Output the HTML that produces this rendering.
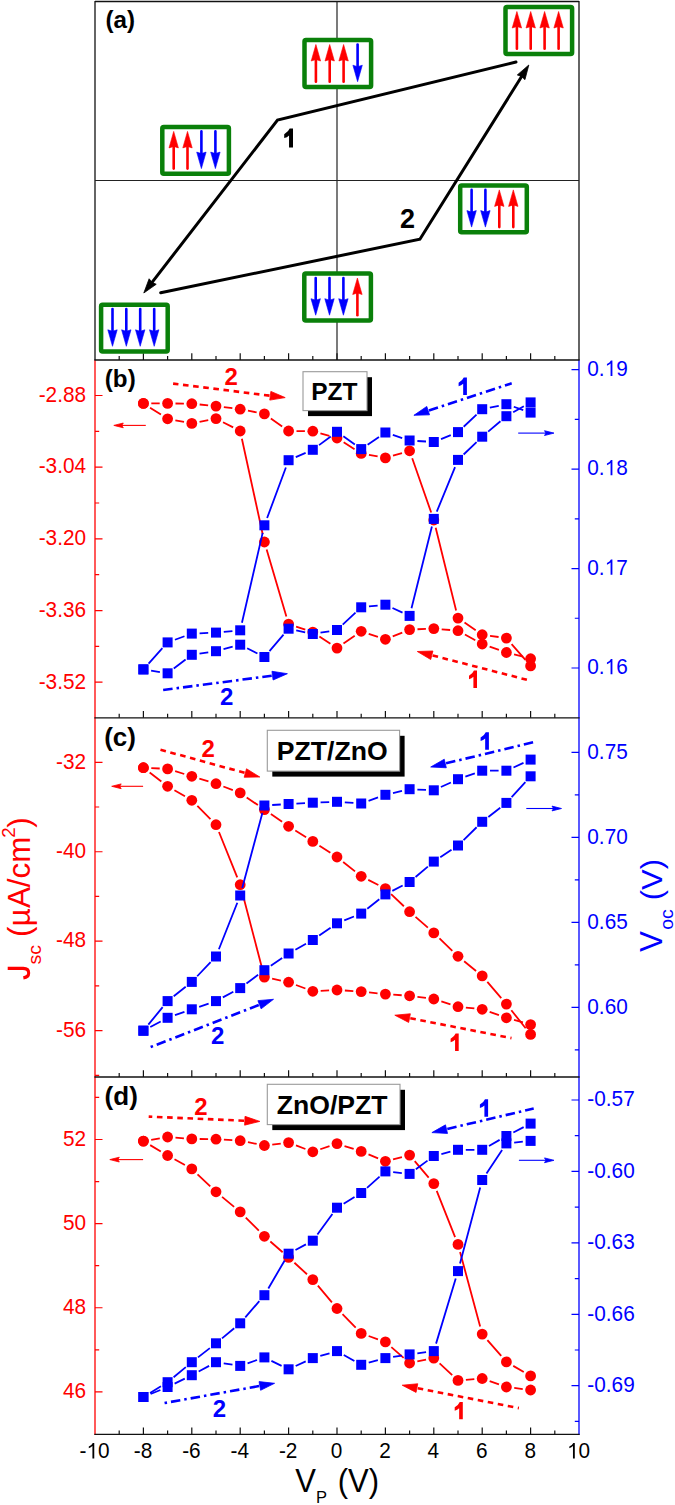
<!DOCTYPE html>
<html><head><meta charset="utf-8"><style>
html,body{margin:0;padding:0;background:#fff;}
body{width:675px;height:1505px;overflow:hidden;}
svg{display:block;font-family:"Liberation Sans", sans-serif;}
.tl{font-size:20.8px;}
.pl{font-size:24.2px;font-weight:bold;fill:#000;}
.num{font-weight:bold;}
</style></head><body>
<svg width="675" height="1505" viewBox="0 0 675 1505">
<rect width="675" height="1505" fill="#fff"/>
<line x1="95.0" y1="1.5" x2="579.0" y2="1.5" stroke="#111" stroke-width="1.3"/>
<line x1="95.0" y1="0.9" x2="95.0" y2="360.0" stroke="#111" stroke-width="1.3"/>
<line x1="579.0" y1="0.9" x2="579.0" y2="360.0" stroke="#111" stroke-width="1.3"/>
<line x1="337" y1="1.5" x2="337" y2="360.0" stroke="#222" stroke-width="1.2"/>
<line x1="95.0" y1="180.5" x2="579.0" y2="180.5" stroke="#222" stroke-width="1.2"/>
<line x1="95.0" y1="360.0" x2="95.0" y2="1435.0" stroke="#ff0000" stroke-width="1.3"/>
<line x1="579.0" y1="360.0" x2="579.0" y2="1435.0" stroke="#0000ff" stroke-width="1.3"/>
<line x1="94.4" y1="360.0" x2="579.6" y2="360.0" stroke="#111" stroke-width="1.3"/>
<path d="M119.2 360v-4.0M143.4 360v-6.8M167.6 360v-4.0M191.8 360v-6.8M216 360v-4.0M240.2 360v-6.8M264.4 360v-4.0M288.6 360v-6.8M312.8 360v-4.0M337 360v-6.8M361.2 360v-4.0M385.4 360v-6.8M409.6 360v-4.0M433.8 360v-6.8M458 360v-4.0M482.2 360v-6.8M506.4 360v-4.0M530.6 360v-6.8M554.8 360v-4.0" stroke="#111" stroke-width="1.2" fill="none"/>
<line x1="94.4" y1="717.8" x2="579.6" y2="717.8" stroke="#111" stroke-width="1.3"/>
<path d="M119.2 717.8v-4.0M143.4 717.8v-6.8M167.6 717.8v-4.0M191.8 717.8v-6.8M216 717.8v-4.0M240.2 717.8v-6.8M264.4 717.8v-4.0M288.6 717.8v-6.8M312.8 717.8v-4.0M337 717.8v-6.8M361.2 717.8v-4.0M385.4 717.8v-6.8M409.6 717.8v-4.0M433.8 717.8v-6.8M458 717.8v-4.0M482.2 717.8v-6.8M506.4 717.8v-4.0M530.6 717.8v-6.8M554.8 717.8v-4.0" stroke="#111" stroke-width="1.2" fill="none"/>
<line x1="94.4" y1="1077.0" x2="579.6" y2="1077.0" stroke="#111" stroke-width="1.3"/>
<path d="M119.2 1077v-4.0M143.4 1077v-6.8M167.6 1077v-4.0M191.8 1077v-6.8M216 1077v-4.0M240.2 1077v-6.8M264.4 1077v-4.0M288.6 1077v-6.8M312.8 1077v-4.0M337 1077v-6.8M361.2 1077v-4.0M385.4 1077v-6.8M409.6 1077v-4.0M433.8 1077v-6.8M458 1077v-4.0M482.2 1077v-6.8M506.4 1077v-4.0M530.6 1077v-6.8M554.8 1077v-4.0" stroke="#111" stroke-width="1.2" fill="none"/>
<line x1="94.4" y1="1434.4" x2="579.6" y2="1434.4" stroke="#111" stroke-width="1.3"/>
<path d="M119.2 1434.4v-4.0M143.4 1434.4v-6.8M167.6 1434.4v-4.0M191.8 1434.4v-6.8M216 1434.4v-4.0M240.2 1434.4v-6.8M264.4 1434.4v-4.0M288.6 1434.4v-6.8M312.8 1434.4v-4.0M337 1434.4v-6.8M361.2 1434.4v-4.0M385.4 1434.4v-6.8M409.6 1434.4v-4.0M433.8 1434.4v-6.8M458 1434.4v-4.0M482.2 1434.4v-6.8M506.4 1434.4v-4.0M530.6 1434.4v-6.8M554.8 1434.4v-4.0" stroke="#111" stroke-width="1.2" fill="none"/>
<path d="M95 395.5h7.5M95 467.18h7.5M95 538.85h7.5M95 610.53h7.5M95 682.2h7.5M95 431.34h4.2M95 503.01h4.2M95 574.69h4.2M95 646.36h4.2" stroke="#ff0000" stroke-width="1.2" fill="none"/>
<text transform="translate(38.7 401.8) scale(1 1.03)" class="tl" fill="#ff0000">-2.88</text>
<text transform="translate(38.7 473.48) scale(1 1.03)" class="tl" fill="#ff0000">-3.04</text>
<text transform="translate(38.7 545.15) scale(1 1.03)" class="tl" fill="#ff0000">-3.20</text>
<text transform="translate(38.7 616.83) scale(1 1.03)" class="tl" fill="#ff0000">-3.36</text>
<text transform="translate(38.7 688.5) scale(1 1.03)" class="tl" fill="#ff0000">-3.52</text>
<path d="M579 369.6h-7.5M579 469.07h-7.5M579 568.53h-7.5M579 668h-7.5M579 419.33h-4.2M579 518.8h-4.2M579 618.27h-4.2" stroke="#0000ff" stroke-width="1.2" fill="none"/>
<text transform="translate(587.3 375.9) scale(1 1.03)" class="tl" fill="#0000ff">0.</text>
<path transform="translate(604.65 375.9) scale(20.8 21.42)" d="M0.373 0L0.373 -0.716L0.302 -0.716Q0.255 -0.62 0.11 -0.553L0.11 -0.472Q0.215 -0.51 0.285 -0.577L0.285 0Z" fill="#0000ff"/>
<text transform="translate(616.21 375.9) scale(1 1.03)" class="tl" fill="#0000ff">9</text>
<text transform="translate(587.3 475.37) scale(1 1.03)" class="tl" fill="#0000ff">0.</text>
<path transform="translate(604.65 475.37) scale(20.8 21.42)" d="M0.373 0L0.373 -0.716L0.302 -0.716Q0.255 -0.62 0.11 -0.553L0.11 -0.472Q0.215 -0.51 0.285 -0.577L0.285 0Z" fill="#0000ff"/>
<text transform="translate(616.21 475.37) scale(1 1.03)" class="tl" fill="#0000ff">8</text>
<text transform="translate(587.3 574.83) scale(1 1.03)" class="tl" fill="#0000ff">0.</text>
<path transform="translate(604.65 574.83) scale(20.8 21.42)" d="M0.373 0L0.373 -0.716L0.302 -0.716Q0.255 -0.62 0.11 -0.553L0.11 -0.472Q0.215 -0.51 0.285 -0.577L0.285 0Z" fill="#0000ff"/>
<text transform="translate(616.21 574.83) scale(1 1.03)" class="tl" fill="#0000ff">7</text>
<text transform="translate(587.3 674.3) scale(1 1.03)" class="tl" fill="#0000ff">0.</text>
<path transform="translate(604.65 674.3) scale(20.8 21.42)" d="M0.373 0L0.373 -0.716L0.302 -0.716Q0.255 -0.62 0.11 -0.553L0.11 -0.472Q0.215 -0.51 0.285 -0.577L0.285 0Z" fill="#0000ff"/>
<text transform="translate(616.21 674.3) scale(1 1.03)" class="tl" fill="#0000ff">6</text>
<path d="M95 762.3h7.5M95 851.73h7.5M95 941.17h7.5M95 1030.6h7.5M95 807.02h4.2M95 896.45h4.2M95 985.88h4.2M95 1075.3h4.2" stroke="#ff0000" stroke-width="1.2" fill="none"/>
<text transform="translate(56.04 768.6) scale(1 1.03)" class="tl" fill="#ff0000">-32</text>
<text transform="translate(56.04 858.03) scale(1 1.03)" class="tl" fill="#ff0000">-40</text>
<text transform="translate(56.04 947.47) scale(1 1.03)" class="tl" fill="#ff0000">-48</text>
<text transform="translate(56.04 1036.9) scale(1 1.03)" class="tl" fill="#ff0000">-56</text>
<path d="M579 752.3h-7.5M579 837.3h-7.5M579 922.3h-7.5M579 1007.3h-7.5M579 794.8h-4.2M579 879.8h-4.2M579 964.8h-4.2M579 1049.8h-4.2" stroke="#0000ff" stroke-width="1.2" fill="none"/>
<text transform="translate(587.3 758.6) scale(1 1.03)" class="tl" fill="#0000ff">0.75</text>
<text transform="translate(587.3 843.6) scale(1 1.03)" class="tl" fill="#0000ff">0.70</text>
<text transform="translate(587.3 928.6) scale(1 1.03)" class="tl" fill="#0000ff">0.65</text>
<text transform="translate(587.3 1013.6) scale(1 1.03)" class="tl" fill="#0000ff">0.60</text>
<path d="M95 1139.5h7.5M95 1223.63h7.5M95 1307.77h7.5M95 1391.9h7.5M95 1097.43h4.2M95 1181.57h4.2M95 1265.7h4.2M95 1349.83h4.2" stroke="#ff0000" stroke-width="1.2" fill="none"/>
<text transform="translate(62.97 1145.8) scale(1 1.03)" class="tl" fill="#ff0000">52</text>
<text transform="translate(62.97 1229.93) scale(1 1.03)" class="tl" fill="#ff0000">50</text>
<text transform="translate(62.97 1314.07) scale(1 1.03)" class="tl" fill="#ff0000">48</text>
<text transform="translate(62.97 1398.2) scale(1 1.03)" class="tl" fill="#ff0000">46</text>
<path d="M579 1100h-7.5M579 1171.42h-7.5M579 1242.85h-7.5M579 1314.28h-7.5M579 1385.7h-7.5M579 1135.71h-4.2M579 1207.14h-4.2M579 1278.56h-4.2M579 1349.99h-4.2M579 1421.41h-4.2" stroke="#0000ff" stroke-width="1.2" fill="none"/>
<text transform="translate(587.3 1106.3) scale(1 1.03)" class="tl" fill="#0000ff">-0.57</text>
<text transform="translate(587.3 1177.72) scale(1 1.03)" class="tl" fill="#0000ff">-0.60</text>
<text transform="translate(587.3 1249.15) scale(1 1.03)" class="tl" fill="#0000ff">-0.63</text>
<text transform="translate(587.3 1320.58) scale(1 1.03)" class="tl" fill="#0000ff">-0.66</text>
<text transform="translate(587.3 1392) scale(1 1.03)" class="tl" fill="#0000ff">-0.69</text>
<text transform="translate(79.57 1458.4) scale(1 1.03)" class="tl" fill="#000">-</text>
<path transform="translate(86.5 1458.4) scale(20.8 21.42)" d="M0.373 0L0.373 -0.716L0.302 -0.716Q0.255 -0.62 0.11 -0.553L0.11 -0.472Q0.215 -0.51 0.285 -0.577L0.285 0Z" fill="#000"/>
<text transform="translate(98.06 1458.4) scale(1 1.03)" class="tl" fill="#000">0</text>
<text transform="translate(133.75 1458.4) scale(1 1.03)" class="tl" fill="#000">-8</text>
<text transform="translate(182.15 1458.4) scale(1 1.03)" class="tl" fill="#000">-6</text>
<text transform="translate(230.55 1458.4) scale(1 1.03)" class="tl" fill="#000">-4</text>
<text transform="translate(278.95 1458.4) scale(1 1.03)" class="tl" fill="#000">-2</text>
<text transform="translate(330.82 1458.4) scale(1 1.03)" class="tl" fill="#000">0</text>
<text transform="translate(379.22 1458.4) scale(1 1.03)" class="tl" fill="#000">2</text>
<text transform="translate(427.62 1458.4) scale(1 1.03)" class="tl" fill="#000">4</text>
<text transform="translate(476.02 1458.4) scale(1 1.03)" class="tl" fill="#000">6</text>
<text transform="translate(524.42 1458.4) scale(1 1.03)" class="tl" fill="#000">8</text>
<path transform="translate(567.04 1458.4) scale(20.8 21.42)" d="M0.373 0L0.373 -0.716L0.302 -0.716Q0.255 -0.62 0.11 -0.553L0.11 -0.472Q0.215 -0.51 0.285 -0.577L0.285 0Z" fill="#000"/>
<text transform="translate(578.6 1458.4) scale(1 1.03)" class="tl" fill="#000">0</text>
<g transform="translate(295.3 1492.2) scale(1 1.08)" fill="#000"><text x="0" y="0" font-size="31">V</text><text x="42.5" y="0" font-size="31">(V)</text></g>
<text x="316.1" y="1503.4" font-size="16.5" fill="#000">P</text>
<g transform="translate(29.8 980.5) rotate(-90) scale(1.03 1)" fill="#ff0000"><path d="M10.1 -22.1L13.4 -22.1L13.4 -6.5Q13.4 0.4 7.2 0.4Q1.6 0.4 1.0 -6.2L4.2 -6.7Q4.6 -2.6 7.2 -2.6Q10.1 -2.6 10.1 -7Z"/><text x="15.6" y="11" font-size="19">sc</text><text x="42.3" y="0" font-size="30.5">(µ</text><text x="70.3" y="0" font-size="30.5">A/cm</text><text x="138.5" y="-15" font-size="18">2</text><text x="148.2" y="0" font-size="30.5">)</text></g>
<g transform="translate(661.8 952) rotate(-90) scale(1.03 1)" fill="#0000ff"><text x="0" y="0" font-size="30.5">V</text><text x="21.5" y="11.5" font-size="19">oc</text><text x="50.3" y="0" font-size="30">(V)</text></g>
<text x="105.5" y="28.4" class="pl">(a)</text>
<rect x="505.5" y="7.1" width="66.6" height="46.8" rx="1.5" fill="#fff" stroke="#0a800a" stroke-width="4.5"/>
<line x1="516.9" y1="48.7" x2="516.9" y2="23.5" stroke="#ff0000" stroke-width="2.6" stroke-linecap="round"/>
<path d="M516.9 11.5L521.6 28L516.9 26.5L512.2 28Z" fill="#ff0000" stroke="#ff0000" stroke-width="0.6" stroke-linejoin="round"/>
<line x1="530.7" y1="48.7" x2="530.7" y2="23.5" stroke="#ff0000" stroke-width="2.6" stroke-linecap="round"/>
<path d="M530.7 11.5L535.4 28L530.7 26.5L526 28Z" fill="#ff0000" stroke="#ff0000" stroke-width="0.6" stroke-linejoin="round"/>
<line x1="544.6" y1="48.7" x2="544.6" y2="23.5" stroke="#ff0000" stroke-width="2.6" stroke-linecap="round"/>
<path d="M544.6 11.5L549.3 28L544.6 26.5L539.9 28Z" fill="#ff0000" stroke="#ff0000" stroke-width="0.6" stroke-linejoin="round"/>
<line x1="558.6" y1="48.7" x2="558.6" y2="23.5" stroke="#ff0000" stroke-width="2.6" stroke-linecap="round"/>
<path d="M558.6 11.5L563.3 28L558.6 26.5L553.9 28Z" fill="#ff0000" stroke="#ff0000" stroke-width="0.6" stroke-linejoin="round"/>
<rect x="304.5" y="40.1" width="66.6" height="46.8" rx="1.5" fill="#fff" stroke="#0a800a" stroke-width="4.5"/>
<line x1="315.9" y1="81.7" x2="315.9" y2="56.5" stroke="#ff0000" stroke-width="2.6" stroke-linecap="round"/>
<path d="M315.9 44.5L320.6 61L315.9 59.5L311.2 61Z" fill="#ff0000" stroke="#ff0000" stroke-width="0.6" stroke-linejoin="round"/>
<line x1="329.7" y1="81.7" x2="329.7" y2="56.5" stroke="#ff0000" stroke-width="2.6" stroke-linecap="round"/>
<path d="M329.7 44.5L334.4 61L329.7 59.5L325 61Z" fill="#ff0000" stroke="#ff0000" stroke-width="0.6" stroke-linejoin="round"/>
<line x1="343.6" y1="81.7" x2="343.6" y2="56.5" stroke="#ff0000" stroke-width="2.6" stroke-linecap="round"/>
<path d="M343.6 44.5L348.3 61L343.6 59.5L338.9 61Z" fill="#ff0000" stroke="#ff0000" stroke-width="0.6" stroke-linejoin="round"/>
<line x1="357.6" y1="44.5" x2="357.6" y2="69.7" stroke="#0000ff" stroke-width="2.6" stroke-linecap="round"/>
<path d="M357.6 81.7L362.3 65.2L357.6 66.7L352.9 65.2Z" fill="#0000ff" stroke="#0000ff" stroke-width="0.6" stroke-linejoin="round"/>
<rect x="162.3" y="127" width="66.6" height="46.8" rx="1.5" fill="#fff" stroke="#0a800a" stroke-width="4.5"/>
<line x1="173.7" y1="168.6" x2="173.7" y2="143.4" stroke="#ff0000" stroke-width="2.6" stroke-linecap="round"/>
<path d="M173.7 131.4L178.4 147.9L173.7 146.4L169 147.9Z" fill="#ff0000" stroke="#ff0000" stroke-width="0.6" stroke-linejoin="round"/>
<line x1="187.5" y1="168.6" x2="187.5" y2="143.4" stroke="#ff0000" stroke-width="2.6" stroke-linecap="round"/>
<path d="M187.5 131.4L192.2 147.9L187.5 146.4L182.8 147.9Z" fill="#ff0000" stroke="#ff0000" stroke-width="0.6" stroke-linejoin="round"/>
<line x1="201.4" y1="131.4" x2="201.4" y2="156.6" stroke="#0000ff" stroke-width="2.6" stroke-linecap="round"/>
<path d="M201.4 168.6L206.1 152.1L201.4 153.6L196.7 152.1Z" fill="#0000ff" stroke="#0000ff" stroke-width="0.6" stroke-linejoin="round"/>
<line x1="215.4" y1="131.4" x2="215.4" y2="156.6" stroke="#0000ff" stroke-width="2.6" stroke-linecap="round"/>
<path d="M215.4 168.6L220.1 152.1L215.4 153.6L210.7 152.1Z" fill="#0000ff" stroke="#0000ff" stroke-width="0.6" stroke-linejoin="round"/>
<rect x="460.2" y="185.5" width="66.6" height="46.8" rx="1.5" fill="#fff" stroke="#0a800a" stroke-width="4.5"/>
<line x1="471.6" y1="189.9" x2="471.6" y2="215.1" stroke="#0000ff" stroke-width="2.6" stroke-linecap="round"/>
<path d="M471.6 227.1L476.3 210.6L471.6 212.1L466.9 210.6Z" fill="#0000ff" stroke="#0000ff" stroke-width="0.6" stroke-linejoin="round"/>
<line x1="485.4" y1="189.9" x2="485.4" y2="215.1" stroke="#0000ff" stroke-width="2.6" stroke-linecap="round"/>
<path d="M485.4 227.1L490.1 210.6L485.4 212.1L480.7 210.6Z" fill="#0000ff" stroke="#0000ff" stroke-width="0.6" stroke-linejoin="round"/>
<line x1="499.3" y1="227.1" x2="499.3" y2="201.9" stroke="#ff0000" stroke-width="2.6" stroke-linecap="round"/>
<path d="M499.3 189.9L504 206.4L499.3 204.9L494.6 206.4Z" fill="#ff0000" stroke="#ff0000" stroke-width="0.6" stroke-linejoin="round"/>
<line x1="513.3" y1="227.1" x2="513.3" y2="201.9" stroke="#ff0000" stroke-width="2.6" stroke-linecap="round"/>
<path d="M513.3 189.9L518 206.4L513.3 204.9L508.6 206.4Z" fill="#ff0000" stroke="#ff0000" stroke-width="0.6" stroke-linejoin="round"/>
<rect x="304.3" y="273.6" width="66.6" height="46.8" rx="1.5" fill="#fff" stroke="#0a800a" stroke-width="4.5"/>
<line x1="315.7" y1="278" x2="315.7" y2="303.2" stroke="#0000ff" stroke-width="2.6" stroke-linecap="round"/>
<path d="M315.7 315.2L320.4 298.7L315.7 300.2L311 298.7Z" fill="#0000ff" stroke="#0000ff" stroke-width="0.6" stroke-linejoin="round"/>
<line x1="329.5" y1="278" x2="329.5" y2="303.2" stroke="#0000ff" stroke-width="2.6" stroke-linecap="round"/>
<path d="M329.5 315.2L334.2 298.7L329.5 300.2L324.8 298.7Z" fill="#0000ff" stroke="#0000ff" stroke-width="0.6" stroke-linejoin="round"/>
<line x1="343.4" y1="278" x2="343.4" y2="303.2" stroke="#0000ff" stroke-width="2.6" stroke-linecap="round"/>
<path d="M343.4 315.2L348.1 298.7L343.4 300.2L338.7 298.7Z" fill="#0000ff" stroke="#0000ff" stroke-width="0.6" stroke-linejoin="round"/>
<line x1="357.4" y1="315.2" x2="357.4" y2="290" stroke="#ff0000" stroke-width="2.6" stroke-linecap="round"/>
<path d="M357.4 278L362.1 294.5L357.4 293L352.7 294.5Z" fill="#ff0000" stroke="#ff0000" stroke-width="0.6" stroke-linejoin="round"/>
<rect x="101.1" y="304.7" width="66.6" height="46.8" rx="1.5" fill="#fff" stroke="#0a800a" stroke-width="4.5"/>
<line x1="112.5" y1="309.1" x2="112.5" y2="334.3" stroke="#0000ff" stroke-width="2.6" stroke-linecap="round"/>
<path d="M112.5 346.3L117.2 329.8L112.5 331.3L107.8 329.8Z" fill="#0000ff" stroke="#0000ff" stroke-width="0.6" stroke-linejoin="round"/>
<line x1="126.3" y1="309.1" x2="126.3" y2="334.3" stroke="#0000ff" stroke-width="2.6" stroke-linecap="round"/>
<path d="M126.3 346.3L131 329.8L126.3 331.3L121.6 329.8Z" fill="#0000ff" stroke="#0000ff" stroke-width="0.6" stroke-linejoin="round"/>
<line x1="140.2" y1="309.1" x2="140.2" y2="334.3" stroke="#0000ff" stroke-width="2.6" stroke-linecap="round"/>
<path d="M140.2 346.3L144.9 329.8L140.2 331.3L135.5 329.8Z" fill="#0000ff" stroke="#0000ff" stroke-width="0.6" stroke-linejoin="round"/>
<line x1="154.2" y1="309.1" x2="154.2" y2="334.3" stroke="#0000ff" stroke-width="2.6" stroke-linecap="round"/>
<path d="M154.2 346.3L158.9 329.8L154.2 331.3L149.5 329.8Z" fill="#0000ff" stroke="#0000ff" stroke-width="0.6" stroke-linejoin="round"/>
<path d="M516 62L277.5 120.1L149.92 285.09" fill="none" stroke="#000" stroke-width="3" stroke-linecap="round" stroke-linejoin="miter"/>
<path d="M143.8 293L149.11 278.78L152.06 282.32L156.23 284.28Z" fill="#000" stroke="#000" stroke-width="0.8" stroke-linejoin="round"/>
<path d="M160.7 292.7L419.9 239.2L523.5 73.48" fill="none" stroke="#000" stroke-width="3" stroke-linecap="round" stroke-linejoin="miter"/>
<path d="M528.8 65L524.93 79.68L521.64 76.45L517.3 74.91Z" fill="#000" stroke="#000" stroke-width="0.8" stroke-linejoin="round"/>
<path d="M293 128.6L293 147.6L289.04 147.6L289.04 135.44Q287.1 137.53 284.2 138.1L284.2 134.3Q288.6 131.64 289.66 128.6Z" fill="#000"/>
<text x="400" y="228.2" class="num" font-size="27">2</text>
<path d="M151.3 403.4L159.7 403.4M175.5 403.5L183.9 403.6M199.66 404.48L208.14 405.32M223.84 407.1L232.36 408.2M247.96 410.71L256.64 412.39M270.85 418.46L282.15 426.44M296.5 431.07L304.9 431.13M320.41 433.34L329.39 435.86M343.66 442.24L354.54 449.16M368.97 454.84L377.63 456.46M392.98 455.68L402.02 453.02M412.21 458.26L431.19 512.54M435.69 527.67L456.11 610.43M464.51 622.57L475.69 630.23M490.02 635.8L498.58 637M511.59 644.06L525.41 659.94" fill="none" stroke="#ff0000" stroke-width="1.8"/>
<path d="M522.95 656.74L514.05 654.46M498.95 649.88L489.65 646.62M475.28 640.2L464.92 634.5M450.13 630.02L441.67 629.28M425.91 628.93L417.49 629.27M402.27 632.54L392.73 636.36M377.9 636.82L368.7 633.78M354.71 635.81L343.49 643.59M330.41 643.74L319.39 636.46M305.3 629.62L296.1 626.58M286.37 616.52L266.63 549.58M262.72 534.28L241.88 438.72M233.17 427.4L223.03 422.2M208.25 420.14L199.55 421.86M184.04 421.92L175.36 420.28M160.94 414.56L150.06 407.64" fill="none" stroke="#ff0000" stroke-width="1.8"/>
<circle cx="143.4" cy="403.4" r="5.4" fill="#ff0000"/>
<circle cx="167.6" cy="403.4" r="5.4" fill="#ff0000"/>
<circle cx="191.8" cy="403.7" r="5.4" fill="#ff0000"/>
<circle cx="216" cy="406.1" r="5.4" fill="#ff0000"/>
<circle cx="240.2" cy="409.2" r="5.4" fill="#ff0000"/>
<circle cx="264.4" cy="413.9" r="5.4" fill="#ff0000"/>
<circle cx="288.6" cy="431" r="5.4" fill="#ff0000"/>
<circle cx="312.8" cy="431.2" r="5.4" fill="#ff0000"/>
<circle cx="337" cy="438" r="5.4" fill="#ff0000"/>
<circle cx="361.2" cy="453.4" r="5.4" fill="#ff0000"/>
<circle cx="385.4" cy="457.9" r="5.4" fill="#ff0000"/>
<circle cx="409.6" cy="450.8" r="5.4" fill="#ff0000"/>
<circle cx="433.8" cy="520" r="5.4" fill="#ff0000"/>
<circle cx="458" cy="618.1" r="5.4" fill="#ff0000"/>
<circle cx="482.2" cy="634.7" r="5.4" fill="#ff0000"/>
<circle cx="506.4" cy="638.1" r="5.4" fill="#ff0000"/>
<circle cx="530.6" cy="665.9" r="5.4" fill="#ff0000"/>
<circle cx="530.6" cy="658.7" r="5.4" fill="#ff0000"/>
<circle cx="506.4" cy="652.5" r="5.4" fill="#ff0000"/>
<circle cx="482.2" cy="644" r="5.4" fill="#ff0000"/>
<circle cx="458" cy="630.7" r="5.4" fill="#ff0000"/>
<circle cx="433.8" cy="628.6" r="5.4" fill="#ff0000"/>
<circle cx="409.6" cy="629.6" r="5.4" fill="#ff0000"/>
<circle cx="385.4" cy="639.3" r="5.4" fill="#ff0000"/>
<circle cx="361.2" cy="631.3" r="5.4" fill="#ff0000"/>
<circle cx="337" cy="648.1" r="5.4" fill="#ff0000"/>
<circle cx="312.8" cy="632.1" r="5.4" fill="#ff0000"/>
<circle cx="288.6" cy="624.1" r="5.4" fill="#ff0000"/>
<circle cx="264.4" cy="542" r="5.4" fill="#ff0000"/>
<circle cx="240.2" cy="431" r="5.4" fill="#ff0000"/>
<circle cx="216" cy="418.6" r="5.4" fill="#ff0000"/>
<circle cx="191.8" cy="423.4" r="5.4" fill="#ff0000"/>
<circle cx="167.6" cy="418.8" r="5.4" fill="#ff0000"/>
<circle cx="143.4" cy="403.4" r="5.4" fill="#ff0000"/>
<path d="M523.23 410.04L513.77 406.76M498.76 405.78L489.84 407.62M476.53 414.56L463.67 426.74M450.78 435.05L441.02 439.05M426.01 441.52L417.39 440.98M402.19 438.05L392.81 434.95M378.97 436.91L367.63 444.69M354.85 444.56L343.35 436.34M330.74 436.46L319.06 445.14M305.63 452.88L295.77 457.12M285.88 467.51L267.12 517.99M262.65 532.9L241.95 622.7M232.43 631.04L223.77 631.86M208.21 632.92L199.59 633.28M184.47 636.27L174.93 639.73M162.39 648.21L148.61 663.59" fill="none" stroke="#0000ff" stroke-width="1.8"/>
<path d="M151.1 670.64L159.9 672.06M173.8 668.56L185.6 659.54M199.52 653.65L208.28 652.35M223.53 649.18L232.67 646.72M247.15 648.23L257.45 653.47M269.47 651.07L283.53 634.63M296.22 630.37L305.18 632.33M320.5 632.73L329.3 631.27M342.69 624.66L355.51 612.64M368.96 606.47L377.64 605.53M392.48 607.98L402.52 612.62M411.49 608.33L431.91 526.47M436.76 511.68L455.04 467.12M463.63 454.5L476.57 442.1M488.15 431.66L500.45 421.24M513.18 412.34L523.82 406.26" fill="none" stroke="#0000ff" stroke-width="1.8"/>
<rect x="525.6" y="407.6" width="10.0" height="10.0" fill="#0000ff"/>
<rect x="501.4" y="399.2" width="10.0" height="10.0" fill="#0000ff"/>
<rect x="477.2" y="404.2" width="10.0" height="10.0" fill="#0000ff"/>
<rect x="453" y="427.1" width="10.0" height="10.0" fill="#0000ff"/>
<rect x="428.8" y="437" width="10.0" height="10.0" fill="#0000ff"/>
<rect x="404.6" y="435.5" width="10.0" height="10.0" fill="#0000ff"/>
<rect x="380.4" y="427.5" width="10.0" height="10.0" fill="#0000ff"/>
<rect x="356.2" y="444.1" width="10.0" height="10.0" fill="#0000ff"/>
<rect x="332" y="426.8" width="10.0" height="10.0" fill="#0000ff"/>
<rect x="307.8" y="444.8" width="10.0" height="10.0" fill="#0000ff"/>
<rect x="283.6" y="455.2" width="10.0" height="10.0" fill="#0000ff"/>
<rect x="259.4" y="520.3" width="10.0" height="10.0" fill="#0000ff"/>
<rect x="235.2" y="625.3" width="10.0" height="10.0" fill="#0000ff"/>
<rect x="211" y="627.6" width="10.0" height="10.0" fill="#0000ff"/>
<rect x="186.8" y="628.6" width="10.0" height="10.0" fill="#0000ff"/>
<rect x="162.6" y="637.4" width="10.0" height="10.0" fill="#0000ff"/>
<rect x="138.4" y="664.4" width="10.0" height="10.0" fill="#0000ff"/>
<rect x="138.4" y="664.4" width="10.0" height="10.0" fill="#0000ff"/>
<rect x="162.6" y="668.3" width="10.0" height="10.0" fill="#0000ff"/>
<rect x="186.8" y="649.8" width="10.0" height="10.0" fill="#0000ff"/>
<rect x="211" y="646.2" width="10.0" height="10.0" fill="#0000ff"/>
<rect x="235.2" y="639.7" width="10.0" height="10.0" fill="#0000ff"/>
<rect x="259.4" y="652" width="10.0" height="10.0" fill="#0000ff"/>
<rect x="283.6" y="623.7" width="10.0" height="10.0" fill="#0000ff"/>
<rect x="307.8" y="629" width="10.0" height="10.0" fill="#0000ff"/>
<rect x="332" y="625" width="10.0" height="10.0" fill="#0000ff"/>
<rect x="356.2" y="602.3" width="10.0" height="10.0" fill="#0000ff"/>
<rect x="380.4" y="599.7" width="10.0" height="10.0" fill="#0000ff"/>
<rect x="404.6" y="610.9" width="10.0" height="10.0" fill="#0000ff"/>
<rect x="428.8" y="513.9" width="10.0" height="10.0" fill="#0000ff"/>
<rect x="453" y="454.9" width="10.0" height="10.0" fill="#0000ff"/>
<rect x="477.2" y="431.7" width="10.0" height="10.0" fill="#0000ff"/>
<rect x="501.4" y="411.2" width="10.0" height="10.0" fill="#0000ff"/>
<rect x="525.6" y="397.4" width="10.0" height="10.0" fill="#0000ff"/>
<path d="M151.29 768.09L159.71 768.51M175.15 771.21L184.25 773.99M199.35 778.61L208.45 781.39M223.38 786.51L232.82 790.09M246.7 797.39L257.9 805.11M270.9 814.09L282.1 821.81M295.3 830.48L306.1 837.22M319.44 845.68L330.36 852.72M343.18 861.93L355.02 871.37M368.24 879.88L378.36 885.02M391.11 894.05L403.89 906.25M415.54 916.91L427.86 927.69M439.48 938.39L452.32 950.81M464.14 961.27L476.06 970.93M487.34 981.9L501.26 998.1M511.33 1010.27L525.67 1028.23" fill="none" stroke="#ff0000" stroke-width="1.8"/>
<path d="M522.99 1022.46L514.01 1019.94M498.95 1015.18L489.65 1011.92M474.35 1008.46L465.85 1007.54M450.47 1004.3L441.33 1001.4M425.97 997.96L417.43 996.84M401.72 995.25L393.28 994.65M377.54 993.29L369.06 992.41M353.32 991.08L344.88 990.52M329.11 990.42L320.69 990.88M305.41 988.52L295.99 984.98M280.87 980.57L272.13 978.73M262.4 969.46L242.2 892.34M237.24 877.37L218.96 832.03M210.44 819.09L197.36 805.91M184.96 796.34L174.44 790.26M161.34 781.49L149.66 772.51" fill="none" stroke="#ff0000" stroke-width="1.8"/>
<circle cx="143.4" cy="767.7" r="5.4" fill="#ff0000"/>
<circle cx="167.6" cy="768.9" r="5.4" fill="#ff0000"/>
<circle cx="191.8" cy="776.3" r="5.4" fill="#ff0000"/>
<circle cx="216" cy="783.7" r="5.4" fill="#ff0000"/>
<circle cx="240.2" cy="792.9" r="5.4" fill="#ff0000"/>
<circle cx="264.4" cy="809.6" r="5.4" fill="#ff0000"/>
<circle cx="288.6" cy="826.3" r="5.4" fill="#ff0000"/>
<circle cx="312.8" cy="841.4" r="5.4" fill="#ff0000"/>
<circle cx="337" cy="857" r="5.4" fill="#ff0000"/>
<circle cx="361.2" cy="876.3" r="5.4" fill="#ff0000"/>
<circle cx="385.4" cy="888.6" r="5.4" fill="#ff0000"/>
<circle cx="409.6" cy="911.7" r="5.4" fill="#ff0000"/>
<circle cx="433.8" cy="932.9" r="5.4" fill="#ff0000"/>
<circle cx="458" cy="956.3" r="5.4" fill="#ff0000"/>
<circle cx="482.2" cy="975.9" r="5.4" fill="#ff0000"/>
<circle cx="506.4" cy="1004.1" r="5.4" fill="#ff0000"/>
<circle cx="530.6" cy="1034.4" r="5.4" fill="#ff0000"/>
<circle cx="530.6" cy="1024.6" r="5.4" fill="#ff0000"/>
<circle cx="506.4" cy="1017.8" r="5.4" fill="#ff0000"/>
<circle cx="482.2" cy="1009.3" r="5.4" fill="#ff0000"/>
<circle cx="458" cy="1006.7" r="5.4" fill="#ff0000"/>
<circle cx="433.8" cy="999" r="5.4" fill="#ff0000"/>
<circle cx="409.6" cy="995.8" r="5.4" fill="#ff0000"/>
<circle cx="385.4" cy="994.1" r="5.4" fill="#ff0000"/>
<circle cx="361.2" cy="991.6" r="5.4" fill="#ff0000"/>
<circle cx="337" cy="990" r="5.4" fill="#ff0000"/>
<circle cx="312.8" cy="991.3" r="5.4" fill="#ff0000"/>
<circle cx="288.6" cy="982.2" r="5.4" fill="#ff0000"/>
<circle cx="264.4" cy="977.1" r="5.4" fill="#ff0000"/>
<circle cx="240.2" cy="884.7" r="5.4" fill="#ff0000"/>
<circle cx="216" cy="824.7" r="5.4" fill="#ff0000"/>
<circle cx="191.8" cy="800.3" r="5.4" fill="#ff0000"/>
<circle cx="167.6" cy="786.3" r="5.4" fill="#ff0000"/>
<circle cx="143.4" cy="767.7" r="5.4" fill="#ff0000"/>
<path d="M523.51 762.85L513.49 767.45M498.6 770.7L490 770.7M474.84 773.28L465.36 776.62M450.91 782.45L440.89 787.05M426.01 789.95L417.39 789.55M402 790.96L393 793.04M378.06 797.44L368.54 800.86M353.42 802.95L344.78 802.35M329.21 802.09L320.59 802.41M305.01 803.12L296.39 803.58M280.81 804.48L272.19 805.02M262.37 813.03L242.23 887.97M237.32 902.75L218.88 949.25M210.62 962.15L197.18 976.25M185.69 986.75L173.71 996.25M162.66 1007.14L148.34 1024.66" fill="none" stroke="#0000ff" stroke-width="1.8"/>
<path d="M150.28 1027.03L160.72 1021.47M174.96 1015.22L184.44 1011.88M199.19 1006.8L208.61 1003.6M222.87 997.41L233.33 991.79M246.47 983.46L258.13 974.84M270.82 965.77L282.18 957.93M295.41 949.7L305.99 943.8M319.22 935.57L330.58 927.73M344.24 920.4L353.96 916.5M367.31 908.75L379.29 899.25M392.34 890.84L402.66 885.56M415.56 876.97L427.84 866.63M440.29 857.28L451.51 849.82M463.57 840.04L476.63 827.26M488.35 817L500.25 807.7M511.65 797.13L525.35 782.07" fill="none" stroke="#0000ff" stroke-width="1.8"/>
<rect x="525.6" y="754.6" width="10.0" height="10.0" fill="#0000ff"/>
<rect x="501.4" y="765.7" width="10.0" height="10.0" fill="#0000ff"/>
<rect x="477.2" y="765.7" width="10.0" height="10.0" fill="#0000ff"/>
<rect x="453" y="774.2" width="10.0" height="10.0" fill="#0000ff"/>
<rect x="428.8" y="785.3" width="10.0" height="10.0" fill="#0000ff"/>
<rect x="404.6" y="784.2" width="10.0" height="10.0" fill="#0000ff"/>
<rect x="380.4" y="789.8" width="10.0" height="10.0" fill="#0000ff"/>
<rect x="356.2" y="798.5" width="10.0" height="10.0" fill="#0000ff"/>
<rect x="332" y="796.8" width="10.0" height="10.0" fill="#0000ff"/>
<rect x="307.8" y="797.7" width="10.0" height="10.0" fill="#0000ff"/>
<rect x="283.6" y="799" width="10.0" height="10.0" fill="#0000ff"/>
<rect x="259.4" y="800.5" width="10.0" height="10.0" fill="#0000ff"/>
<rect x="235.2" y="890.5" width="10.0" height="10.0" fill="#0000ff"/>
<rect x="211" y="951.5" width="10.0" height="10.0" fill="#0000ff"/>
<rect x="186.8" y="976.9" width="10.0" height="10.0" fill="#0000ff"/>
<rect x="162.6" y="996.1" width="10.0" height="10.0" fill="#0000ff"/>
<rect x="138.4" y="1025.7" width="10.0" height="10.0" fill="#0000ff"/>
<rect x="138.4" y="1025.7" width="10.0" height="10.0" fill="#0000ff"/>
<rect x="162.6" y="1012.8" width="10.0" height="10.0" fill="#0000ff"/>
<rect x="186.8" y="1004.3" width="10.0" height="10.0" fill="#0000ff"/>
<rect x="211" y="996.1" width="10.0" height="10.0" fill="#0000ff"/>
<rect x="235.2" y="983.1" width="10.0" height="10.0" fill="#0000ff"/>
<rect x="259.4" y="965.2" width="10.0" height="10.0" fill="#0000ff"/>
<rect x="283.6" y="948.5" width="10.0" height="10.0" fill="#0000ff"/>
<rect x="307.8" y="935" width="10.0" height="10.0" fill="#0000ff"/>
<rect x="332" y="918.3" width="10.0" height="10.0" fill="#0000ff"/>
<rect x="356.2" y="908.6" width="10.0" height="10.0" fill="#0000ff"/>
<rect x="380.4" y="889.4" width="10.0" height="10.0" fill="#0000ff"/>
<rect x="404.6" y="877" width="10.0" height="10.0" fill="#0000ff"/>
<rect x="428.8" y="856.6" width="10.0" height="10.0" fill="#0000ff"/>
<rect x="453" y="840.5" width="10.0" height="10.0" fill="#0000ff"/>
<rect x="477.2" y="816.8" width="10.0" height="10.0" fill="#0000ff"/>
<rect x="501.4" y="797.9" width="10.0" height="10.0" fill="#0000ff"/>
<rect x="525.6" y="771.3" width="10.0" height="10.0" fill="#0000ff"/>
<path d="M151.19 1139.78L159.81 1138.32M175.48 1137.62L183.92 1138.28M199.7 1139L208.1 1139.1M223.88 1139.69L232.32 1140.21M247.95 1142.24L256.65 1143.96M272.24 1144.56L280.76 1143.54M295.98 1145.41L305.42 1148.99M320.28 1149.26L329.52 1146.14M344.52 1146.02L353.68 1148.98M368.51 1154.39L378.09 1158.31M393.05 1159.34L401.95 1157.06M414.71 1161.12L428.69 1177.58M436.72 1190.94L455.08 1237.06M460.06 1252.03L480.14 1326.47M487.39 1340.06L501.21 1355.94M513.24 1365.86L523.76 1371.94" fill="none" stroke="#ff0000" stroke-width="1.8"/>
<path d="M522.76 1389.03L514.24 1387.97M498.95 1384.38L489.65 1381.12M474.32 1379.12L465.88 1379.78M452.19 1375.05L439.61 1363.45M426.06 1359.67L417.34 1361.43M403.65 1357.81L391.35 1347.09M377.95 1339.28L368.65 1336.02M355.69 1327.73L342.51 1314.17M331.93 1302.44L317.87 1285.66M306.98 1274.26L294.42 1262.74M282.65 1252.21L270.35 1241.49M258.84 1230.69L245.76 1217.51M234.12 1206.85L222.08 1196.85M210.26 1186.37L197.54 1174.33M184.89 1165.07L174.51 1159.33M160.81 1151.46L150.19 1145.14" fill="none" stroke="#ff0000" stroke-width="1.8"/>
<circle cx="143.4" cy="1141.1" r="5.4" fill="#ff0000"/>
<circle cx="167.6" cy="1137" r="5.4" fill="#ff0000"/>
<circle cx="191.8" cy="1138.9" r="5.4" fill="#ff0000"/>
<circle cx="216" cy="1139.2" r="5.4" fill="#ff0000"/>
<circle cx="240.2" cy="1140.7" r="5.4" fill="#ff0000"/>
<circle cx="264.4" cy="1145.5" r="5.4" fill="#ff0000"/>
<circle cx="288.6" cy="1142.6" r="5.4" fill="#ff0000"/>
<circle cx="312.8" cy="1151.8" r="5.4" fill="#ff0000"/>
<circle cx="337" cy="1143.6" r="5.4" fill="#ff0000"/>
<circle cx="361.2" cy="1151.4" r="5.4" fill="#ff0000"/>
<circle cx="385.4" cy="1161.3" r="5.4" fill="#ff0000"/>
<circle cx="409.6" cy="1155.1" r="5.4" fill="#ff0000"/>
<circle cx="433.8" cy="1183.6" r="5.4" fill="#ff0000"/>
<circle cx="458" cy="1244.4" r="5.4" fill="#ff0000"/>
<circle cx="482.2" cy="1334.1" r="5.4" fill="#ff0000"/>
<circle cx="506.4" cy="1361.9" r="5.4" fill="#ff0000"/>
<circle cx="530.6" cy="1375.9" r="5.4" fill="#ff0000"/>
<circle cx="530.6" cy="1390" r="5.4" fill="#ff0000"/>
<circle cx="506.4" cy="1387" r="5.4" fill="#ff0000"/>
<circle cx="482.2" cy="1378.5" r="5.4" fill="#ff0000"/>
<circle cx="458" cy="1380.4" r="5.4" fill="#ff0000"/>
<circle cx="433.8" cy="1358.1" r="5.4" fill="#ff0000"/>
<circle cx="409.6" cy="1363" r="5.4" fill="#ff0000"/>
<circle cx="385.4" cy="1341.9" r="5.4" fill="#ff0000"/>
<circle cx="361.2" cy="1333.4" r="5.4" fill="#ff0000"/>
<circle cx="337" cy="1308.5" r="5.4" fill="#ff0000"/>
<circle cx="312.8" cy="1279.6" r="5.4" fill="#ff0000"/>
<circle cx="288.6" cy="1257.4" r="5.4" fill="#ff0000"/>
<circle cx="264.4" cy="1236.3" r="5.4" fill="#ff0000"/>
<circle cx="240.2" cy="1211.9" r="5.4" fill="#ff0000"/>
<circle cx="216" cy="1191.8" r="5.4" fill="#ff0000"/>
<circle cx="191.8" cy="1168.9" r="5.4" fill="#ff0000"/>
<circle cx="167.6" cy="1155.5" r="5.4" fill="#ff0000"/>
<circle cx="143.4" cy="1141.1" r="5.4" fill="#ff0000"/>
<path d="M523.66 1127.16L513.34 1132.44M499.62 1139.86L488.98 1145.94M474.4 1149.8L465.8 1149.8M450.44 1151.74L441.36 1154.06M427.53 1160.64L415.87 1169.26M401.84 1173.1L393.16 1172.2M379.58 1176.59L367.02 1187.81M354.53 1197.05L343.67 1203.65M332.39 1213.99L317.41 1234.41M305.93 1244.39L295.47 1250.01M284.67 1260.44L268.33 1288.46M259.31 1301.11L245.29 1317.39M234.19 1328.27L222.01 1338.33M209.85 1348.1L197.95 1357.4M185.79 1367.17L173.61 1377.23M160.95 1386.27L150.05 1392.93" fill="none" stroke="#0000ff" stroke-width="1.8"/>
<path d="M150.61 1394.02L160.39 1389.98M174.61 1383.58L184.79 1378.62M198.67 1371.51L209.13 1365.89M223.71 1363.38L232.49 1364.72M247.56 1363.32L257.04 1359.98M271.4 1360.84L281.6 1365.86M295.68 1366.02L305.72 1361.38M320.29 1355.93L329.51 1353.27M343.79 1354.94L354.41 1360.96M368.72 1362.72L377.88 1360.18M393.11 1356.92L401.89 1355.58M417.33 1353.35L426.07 1352.15M436.06 1343.63L455.74 1278.57M460 1263.56L480.2 1187.54M486.5 1173.49L502.1 1149.91M514.16 1142.6L522.84 1141.7" fill="none" stroke="#0000ff" stroke-width="1.8"/>
<rect x="525.6" y="1118.6" width="10.0" height="10.0" fill="#0000ff"/>
<rect x="501.4" y="1131" width="10.0" height="10.0" fill="#0000ff"/>
<rect x="477.2" y="1144.8" width="10.0" height="10.0" fill="#0000ff"/>
<rect x="453" y="1144.8" width="10.0" height="10.0" fill="#0000ff"/>
<rect x="428.8" y="1151" width="10.0" height="10.0" fill="#0000ff"/>
<rect x="404.6" y="1168.9" width="10.0" height="10.0" fill="#0000ff"/>
<rect x="380.4" y="1166.4" width="10.0" height="10.0" fill="#0000ff"/>
<rect x="356.2" y="1188" width="10.0" height="10.0" fill="#0000ff"/>
<rect x="332" y="1202.7" width="10.0" height="10.0" fill="#0000ff"/>
<rect x="307.8" y="1235.7" width="10.0" height="10.0" fill="#0000ff"/>
<rect x="283.6" y="1248.7" width="10.0" height="10.0" fill="#0000ff"/>
<rect x="259.4" y="1290.2" width="10.0" height="10.0" fill="#0000ff"/>
<rect x="235.2" y="1318.3" width="10.0" height="10.0" fill="#0000ff"/>
<rect x="211" y="1338.3" width="10.0" height="10.0" fill="#0000ff"/>
<rect x="186.8" y="1357.2" width="10.0" height="10.0" fill="#0000ff"/>
<rect x="162.6" y="1377.2" width="10.0" height="10.0" fill="#0000ff"/>
<rect x="138.4" y="1392" width="10.0" height="10.0" fill="#0000ff"/>
<rect x="138.4" y="1392" width="10.0" height="10.0" fill="#0000ff"/>
<rect x="162.6" y="1382" width="10.0" height="10.0" fill="#0000ff"/>
<rect x="186.8" y="1370.2" width="10.0" height="10.0" fill="#0000ff"/>
<rect x="211" y="1357.2" width="10.0" height="10.0" fill="#0000ff"/>
<rect x="235.2" y="1360.9" width="10.0" height="10.0" fill="#0000ff"/>
<rect x="259.4" y="1352.4" width="10.0" height="10.0" fill="#0000ff"/>
<rect x="283.6" y="1364.3" width="10.0" height="10.0" fill="#0000ff"/>
<rect x="307.8" y="1353.1" width="10.0" height="10.0" fill="#0000ff"/>
<rect x="332" y="1346.1" width="10.0" height="10.0" fill="#0000ff"/>
<rect x="356.2" y="1359.8" width="10.0" height="10.0" fill="#0000ff"/>
<rect x="380.4" y="1353.1" width="10.0" height="10.0" fill="#0000ff"/>
<rect x="404.6" y="1349.4" width="10.0" height="10.0" fill="#0000ff"/>
<rect x="428.8" y="1346.1" width="10.0" height="10.0" fill="#0000ff"/>
<rect x="453" y="1266.1" width="10.0" height="10.0" fill="#0000ff"/>
<rect x="477.2" y="1175" width="10.0" height="10.0" fill="#0000ff"/>
<rect x="501.4" y="1138.4" width="10.0" height="10.0" fill="#0000ff"/>
<rect x="525.6" y="1135.9" width="10.0" height="10.0" fill="#0000ff"/>
<text x="104.8" y="387" class="pl">(b)</text>
<path d="M269.52 395.64L173.1 383.6" stroke="#ff0000" stroke-width="2.6" stroke-dasharray="5.6 4.6" fill="none"/>
<path d="M285.2 397.6L269.77 400.11L270.32 395.74L270.86 391.38Z" fill="#ff0000" stroke="#ff0000" stroke-width="0.8" stroke-linejoin="round"/>
<text x="224.5" y="385.1" class="num" fill="#ff0000" font-size="24">2</text>
<path d="M432.6 655.45L530.7 680.8" stroke="#ff0000" stroke-width="2.6" stroke-dasharray="5.6 4.6" fill="none"/>
<path d="M417.3 651.5L432.92 650.99L431.82 655.25L430.72 659.51Z" fill="#ff0000" stroke="#ff0000" stroke-width="0.8" stroke-linejoin="round"/>
<path d="M477 670.6L477 687.9L473.4 687.9L473.4 676.83Q471.64 678.73 469 679.25L469 675.79Q473 673.37 473.96 670.6Z" fill="#ff0000"/>
<path d="M428.92 410.39L511.7 383.3" stroke="#0000ff" stroke-width="2.6" stroke-dasharray="9.5 4 2.5 4" fill="none"/>
<path d="M413.9 415.3L426.79 406.45L428.16 410.64L429.52 414.82Z" fill="#0000ff" stroke="#0000ff" stroke-width="0.8" stroke-linejoin="round"/>
<path d="M466.9 377.6L466.9 394.9L463.17 394.9L463.17 383.83Q461.34 385.73 458.6 386.25L458.6 382.79Q462.75 380.37 463.75 377.6Z" fill="#0000ff"/>
<path d="M271.73 675.75L163 690" stroke="#0000ff" stroke-width="2.6" stroke-dasharray="9.5 4 2.5 4" fill="none"/>
<path d="M287.4 673.7L273.1 680.01L272.53 675.65L271.96 671.29Z" fill="#0000ff" stroke="#0000ff" stroke-width="0.8" stroke-linejoin="round"/>
<text x="220" y="704.8" class="num" fill="#0000ff" font-size="24">2</text>
<path d="M145.8 425.4L119.8 425.4" stroke="#ff0000" stroke-width="1.1" fill="none"/>
<path d="M113.8 425.4L123.3 423L121.8 425.4L123.3 427.8Z" fill="#ff0000" stroke="#ff0000" stroke-width="0.8" stroke-linejoin="round"/>
<path d="M518.2 433.1L548 433.1" stroke="#0000ff" stroke-width="1.1" fill="none"/>
<path d="M554 433.1L544.5 435.5L546 433.1L544.5 430.7Z" fill="#0000ff" stroke="#0000ff" stroke-width="0.8" stroke-linejoin="round"/>
<rect x="308" y="377.2" width="64" height="38.9" fill="#000"/>
<rect x="303" y="371.7" width="64" height="38.9" fill="#fff" stroke="#9a9a9a" stroke-width="1.1"/>
<text x="311.2" y="400.1" class="num" font-size="24.5" fill="#000">PZT</text>
<text x="104.2" y="745.6" class="pl" style="font-size:26px">(c)</text>
<path d="M244.56 772.81L156.1 748.5" stroke="#ff0000" stroke-width="2.6" stroke-dasharray="5.6 4.6" fill="none"/>
<path d="M259.8 777L244.17 777.27L245.34 773.02L246.5 768.78Z" fill="#ff0000" stroke="#ff0000" stroke-width="0.8" stroke-linejoin="round"/>
<text x="201.6" y="757" class="num" fill="#ff0000" font-size="24">2</text>
<path d="M143.1 786.3L117.7 786.3" stroke="#ff0000" stroke-width="1.1" fill="none"/>
<path d="M111.7 786.3L121.2 783.9L119.7 786.3L121.2 788.7Z" fill="#ff0000" stroke="#ff0000" stroke-width="0.8" stroke-linejoin="round"/>
<path d="M446.06 763.3L533.7 742.2" stroke="#0000ff" stroke-width="2.6" stroke-dasharray="9.5 4 2.5 4" fill="none"/>
<path d="M430.7 767L444.25 759.21L445.28 763.49L446.31 767.77Z" fill="#0000ff" stroke="#0000ff" stroke-width="0.8" stroke-linejoin="round"/>
<path d="M488.9 732.2L488.9 749.8L485.17 749.8L485.17 738.54Q483.34 740.47 480.6 741L480.6 737.48Q484.75 735.02 485.75 732.2Z" fill="#0000ff"/>
<path d="M526.3 808.5L555.5 808.5" stroke="#0000ff" stroke-width="1.1" fill="none"/>
<path d="M561.5 808.5L552 810.9L553.5 808.5L552 806.1Z" fill="#0000ff" stroke="#0000ff" stroke-width="0.8" stroke-linejoin="round"/>
<path d="M410.3 1018.24L511.5 1038.1" stroke="#ff0000" stroke-width="2.6" stroke-dasharray="5.6 4.6" fill="none"/>
<path d="M394.8 1015.2L410.37 1013.77L409.52 1018.09L408.67 1022.41Z" fill="#ff0000" stroke="#ff0000" stroke-width="0.8" stroke-linejoin="round"/>
<path d="M458.7 1033.4L458.7 1050.9L455.06 1050.9L455.06 1039.7Q453.27 1041.62 450.6 1042.15L450.6 1038.65Q454.65 1036.2 455.62 1033.4Z" fill="#ff0000"/>
<path d="M258.77 1005.03L149.8 1047.4" stroke="#0000ff" stroke-width="2.6" stroke-dasharray="9.5 4 2.5 4" fill="none"/>
<path d="M273.5 999.3L261.11 1008.84L259.52 1004.74L257.93 1000.64Z" fill="#0000ff" stroke="#0000ff" stroke-width="0.8" stroke-linejoin="round"/>
<text x="211" y="1044.4" class="num" fill="#0000ff" font-size="24">2</text>
<rect x="272.3" y="735.8" width="132.3" height="40.8" fill="#000"/>
<rect x="267.3" y="730.3" width="132.3" height="40.8" fill="#fff" stroke="#9a9a9a" stroke-width="1.1"/>
<text x="276.8" y="759.9" class="num" font-size="26.6" fill="#000">PZT/ZnO</text>
<text x="104.6" y="1104.9" class="pl" style="font-size:26px">(d)</text>
<path d="M244.01 1120.72L148.7 1116.6" stroke="#ff0000" stroke-width="2.6" stroke-dasharray="5.6 4.6" fill="none"/>
<path d="M259.8 1121.4L244.62 1125.15L244.81 1120.75L245 1116.36Z" fill="#ff0000" stroke="#ff0000" stroke-width="0.8" stroke-linejoin="round"/>
<text x="194.3" y="1114.8" class="num" fill="#ff0000" font-size="24">2</text>
<path d="M143.1 1159.6L115.8 1159.6" stroke="#ff0000" stroke-width="1.1" fill="none"/>
<path d="M109.8 1159.6L119.3 1157.2L117.8 1159.6L119.3 1162Z" fill="#ff0000" stroke="#ff0000" stroke-width="0.8" stroke-linejoin="round"/>
<path d="M447.28 1128.96L533.7 1108.5" stroke="#0000ff" stroke-width="2.6" stroke-dasharray="9.5 4 2.5 4" fill="none"/>
<path d="M431.9 1132.6L445.48 1124.86L446.5 1129.14L447.51 1133.43Z" fill="#0000ff" stroke="#0000ff" stroke-width="0.8" stroke-linejoin="round"/>
<path d="M488.1 1099.2L488.1 1116.8L484.41 1116.8L484.41 1105.54Q482.61 1107.47 479.9 1108L479.9 1104.48Q484 1102.02 484.98 1099.2Z" fill="#0000ff"/>
<path d="M518.9 1160.3L548 1160.3" stroke="#0000ff" stroke-width="1.1" fill="none"/>
<path d="M554 1160.3L544.5 1162.7L546 1160.3L544.5 1157.9Z" fill="#0000ff" stroke="#0000ff" stroke-width="0.8" stroke-linejoin="round"/>
<path d="M417.7 1388.24L518.9 1408.1" stroke="#ff0000" stroke-width="2.6" stroke-dasharray="5.6 4.6" fill="none"/>
<path d="M402.2 1385.2L417.77 1383.77L416.92 1388.09L416.07 1392.41Z" fill="#ff0000" stroke="#ff0000" stroke-width="0.8" stroke-linejoin="round"/>
<path d="M462.8 1402L462.8 1419.3L459.15 1419.3L459.15 1408.23Q457.37 1410.13 454.7 1410.65L454.7 1407.19Q458.75 1404.77 459.72 1402Z" fill="#ff0000"/>
<path d="M259.05 1386.09L160.9 1403.7" stroke="#0000ff" stroke-width="2.6" stroke-dasharray="9.5 4 2.5 4" fill="none"/>
<path d="M274.6 1383.3L260.61 1390.28L259.84 1385.95L259.06 1381.62Z" fill="#0000ff" stroke="#0000ff" stroke-width="0.8" stroke-linejoin="round"/>
<text x="212.8" y="1416.7" class="num" fill="#0000ff" font-size="24">2</text>
<rect x="272.3" y="1089.8" width="132.7" height="40.3" fill="#000"/>
<rect x="267.3" y="1084.3" width="132.7" height="40.3" fill="#fff" stroke="#9a9a9a" stroke-width="1.1"/>
<text x="276.8" y="1114.4" class="num" font-size="26.6" fill="#000">ZnO/PZT</text>
</svg>
</body></html>
